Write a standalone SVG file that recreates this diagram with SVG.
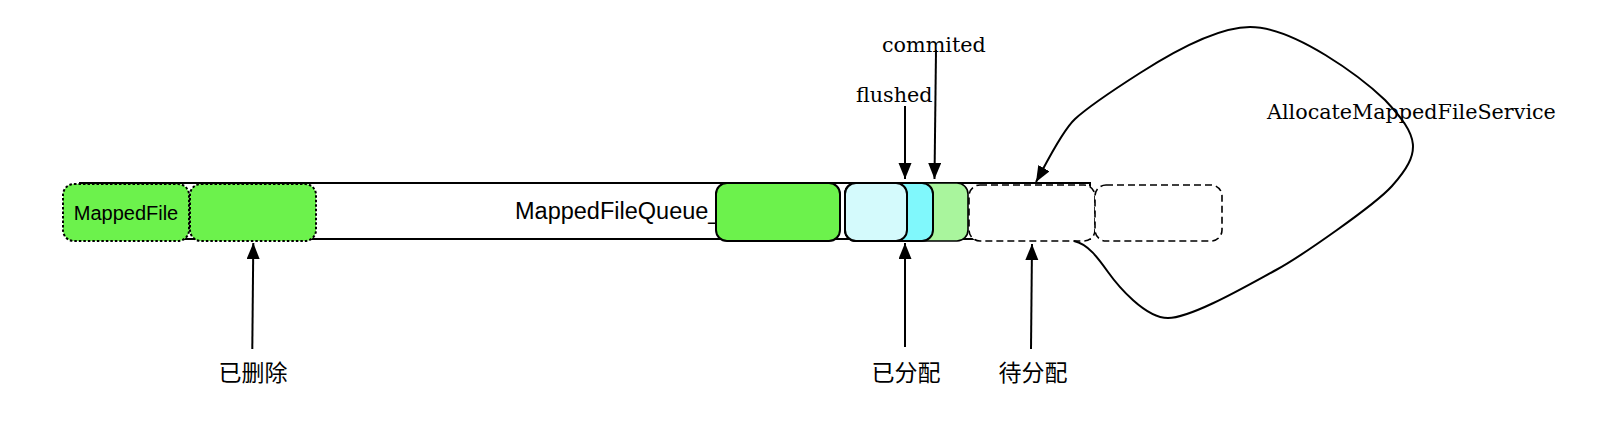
<svg xmlns="http://www.w3.org/2000/svg" width="1608" height="432" viewBox="0 0 1608 432">
<style>
.sans{font-family:"Liberation Sans",Arial,sans-serif;fill:#000}
.serif{font-family:"DejaVu Serif","Liberation Serif",serif;font-size:20.7px;fill:#000}
.cjk{font-family:"Noto Sans CJK SC",sans-serif;font-size:23px;fill:#000}
.dotbox{fill:#6CF24C;stroke:#000;stroke-width:2;stroke-dasharray:2.5 2}
.dashbox{fill:#fff;stroke:#000;stroke-width:1.6;stroke-dasharray:7 4}
.solid{stroke:#000;stroke-width:2}
.edge{fill:none;stroke:#000;stroke-width:2}
</style>
<defs>
<marker id="ah" markerUnits="userSpaceOnUse" markerWidth="17" markerHeight="14" refX="16" refY="6.5" orient="auto">
<path d="M0,0 L16,6.5 L0,13 z" fill="#000"/>
</marker>
</defs>
<rect width="1608" height="432" fill="#fff"/>
<g id="queue">
<rect x="80" y="183" width="1010" height="56" fill="#fff" class="solid"/>
<text class="sans" x="515" y="219" font-size="23.5">MappedFileQueue_</text>
</g>
<g id="mappedfile">
<rect class="dotbox" x="63" y="184" width="126" height="57" rx="11"/>
<text class="sans" x="126" y="220" font-size="20" text-anchor="middle">MappedFile</text>
</g>
<g id="deleted-file">
<rect class="dotbox" x="190" y="184" width="126" height="57" rx="11"/>
</g>
<g id="full-file">
<rect x="716" y="183" width="124" height="58" rx="11" fill="#6CF24C" class="solid"/>
</g>
<g id="current-file">
<rect x="845" y="183" width="123" height="58" rx="11" fill="#A9F59D" stroke="#000" stroke-width="1.6"/>
<rect x="845" y="183" width="88" height="58" rx="11" fill="#80F8FC" class="solid"/>
<rect x="845" y="183" width="62" height="58" rx="11" fill="#D4FAFC" class="solid"/>
</g>
<g id="next-file">
<rect class="dashbox" x="969" y="185" width="126" height="56" rx="11"/>
</g>
<g id="next-next-file">
<rect class="dashbox" x="1095" y="185" width="127" height="56" rx="11"/>
</g>
<g id="labels">
<text class="serif" x="856" y="101.5">flushed</text>
<text class="serif" x="882" y="51.5">commited</text>
<text class="serif" x="1267" y="119">AllocateMappedFileService</text>
<text class="cjk" x="253" y="381" text-anchor="middle">已删除</text>
<text class="cjk" x="906" y="381" text-anchor="middle">已分配</text>
<text class="cjk" x="1033" y="381" text-anchor="middle">待分配</text>
</g>
<g id="connectors">
<path class="edge" d="M905,106 L905,179" marker-end="url(#ah)"/>
<path class="edge" d="M936,50 L934.5,179" marker-end="url(#ah)"/>
<path class="edge" d="M252.3,349 L253.3,243" marker-end="url(#ah)"/>
<path class="edge" d="M905,347 L905,243" marker-end="url(#ah)"/>
<path class="edge" d="M1031,349 L1032,244" marker-end="url(#ah)"/>
<path class="edge" d="M1074,241 C1088,244 1098,258 1108,272 C1118,286 1145,318 1168,318 C1192,318 1250,284 1276,270 C1300,257 1375,205 1392,186 C1422,152 1420,137 1385,100 C1362,78 1295,27 1250,27 C1215,27 1165,57 1140,73 C1115,89 1089,106 1075,119 C1061,132 1044,168 1036,182" marker-end="url(#ah)"/>
</g>
</svg>
